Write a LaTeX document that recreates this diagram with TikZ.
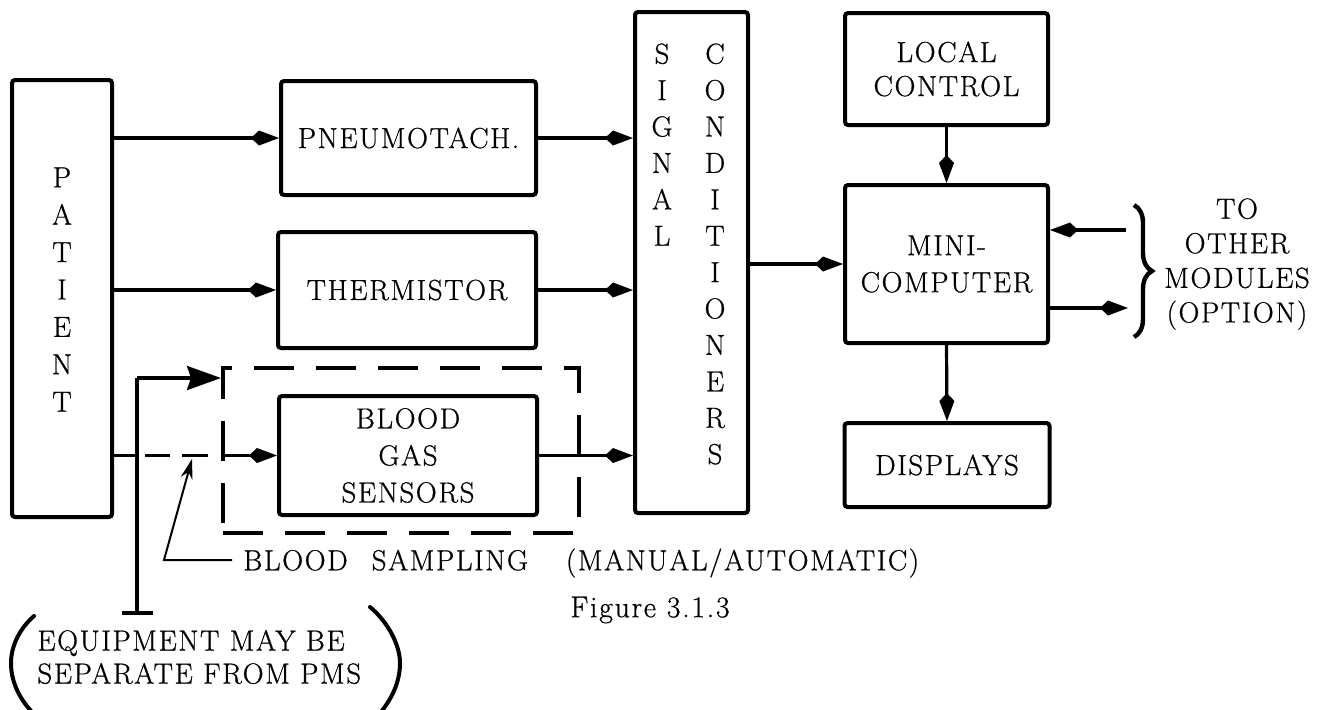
\documentclass[tikz,border=0pt]{standalone}
\usepackage{fontspec}
\setmainfont{Latin Modern Roman}[FakeBold=0.7, LetterSpace=5.5]
\usetikzlibrary{arrows.meta,decorations.pathreplacing,calc}
\begin{document}
\begin{tikzpicture}[x=0.5pt,y=-0.5pt,
  every node/.style={font=\fontsize{14.5}{18}\selectfont},
  box/.style={draw, line width=2pt, rounded corners=1.5pt, inner sep=0pt, align=center},
  conn/.style={line width=1.6pt, -{Kite[length=14pt,width=7.5pt,inset=4pt]}},
  plain/.style={line width=1.6pt},
  bigtip/.style={line width=1.6pt, -{Stealth[length=17pt,width=12pt,inset=2pt]}},
  pointer/.style={line width=1pt, -{Stealth[length=10pt,width=6pt]}},
  paren/.style={line width=2pt, line cap=round},
  stack/.style={inner sep=0pt, align=center, anchor=north}]
\useasboundingbox (0,0) rectangle (1322,709);
\fill[white] (0,0) rectangle (1322,709);

% boxes
\node[box, minimum width=50pt, minimum height=218.5pt] (patient) at (62,298.5) {};
\node[stack, font=\fontsize{14.5}{18.7}\selectfont] (patientT) at (62,167) {P\\A\\T\\I\\E\\N\\T};
\node[box, minimum width=127.5pt, minimum height=57pt] (pneumo) at (408.5,138) {PNEUMOTACH.};
\node[box, minimum width=129pt, minimum height=58pt] (therm) at (407,290) {THERMISTOR};
\node[box, minimum width=129pt, minimum height=59.5pt, font=\fontsize{14.5}{18.5}\selectfont] (blood) at (408,455.5) {BLOOD\\GAS\\SENSORS};
\node[draw, line width=2pt, dash pattern=on 20pt off 11pt, minimum width=178pt, minimum height=82.5pt, inner sep=0pt] (dbox) at (401,450.5) {};
\node[box, minimum width=56.5pt, minimum height=250.5pt] (signal) at (691.5,262.5) {};
\node[stack, font=\fontsize{14.5}{18.2}\selectfont] (sigA) at (662,43) {S\\I\\G\\N\\A\\L};
\node[stack, font=\fontsize{14.5}{18.2}\selectfont] (sigB) at (715,43) {C\\O\\N\\D\\I\\T\\I\\O\\N\\E\\R\\S};
\node[box, minimum width=101.5pt, minimum height=56pt, font=\fontsize{14.5}{17}\selectfont] (local) at (946.5,69) {LOCAL\\CONTROL};
\node[box, minimum width=101.5pt, minimum height=79pt, font=\fontsize{14.5}{18.5}\selectfont] (mini) at (946.5,264) {MINI-\\COMPUTER};
\node[box, minimum width=102.5pt, minimum height=42pt] (displays) at (947,465) {DISPLAYS};

% connectors
\draw[conn] (patient.east |- pneumo.west) -- (pneumo.west);
\draw[conn] (pneumo.east) -- (signal.west |- pneumo.east);
\draw[conn] (patient.east |- therm.west) -- (therm.west);
\draw[conn] (therm.east) -- (signal.west |- therm.east);
\draw[conn] (blood.east) -- (signal.west |- blood.east);
\draw[conn] (signal.east |- mini.west) -- (mini.west);
\draw[conn] (local.south) -- (mini.north);
\draw[conn] (mini.south) -- (displays.north);

% other modules
\coordinate (inR) at (1126,230);
\coordinate (outR) at (1128,308);
\draw[conn] (inR) -- (inR -| mini.east);
\draw[conn] (outR -| mini.east) -- (outR);
\coordinate (brT) at (1134,205);
\coordinate (brB) at (1134,337);
\draw[line width=2.2pt, decorate, decoration={brace, amplitude=9pt}] (brT) -- (brB);
\node[align=center, font=\fontsize{14.5}{17.3}\selectfont] (toother) at (1237,264) {TO\\OTHER\\MODULES\\(OPTION)};

% blood sampling branch
\coordinate (vt) at (137,378);
\coordinate (vb) at (137,613);
\coordinate (tL) at (122,613);
\coordinate (tR) at (153,613);
\draw[plain] (patient.east |- blood.west) -- (vb |- blood.west);
\draw[plain, dash pattern=on 0pt off 4pt on 12.5pt off 6pt on 13pt off 20pt] (vb |- blood.west) -- (dbox.west |- blood.west);
\draw[conn] (dbox.west |- blood.west) -- (blood.west);
\draw[plain] (vt) -- (vb);
\draw[plain] (tL) -- (tR);
\draw[bigtip] (vt) -- (vt -| dbox.west);

% pointer and label
\coordinate (pc) at (164,560);
\coordinate (pe) at (232,560);
\coordinate (ptip) at (192,459);
\draw[pointer] (pe) -- (pc) -- (ptip);
\node[anchor=west, inner sep=0pt] (bs) at (243,563) {BLOOD\hspace{12pt}SAMPLING\hspace{19pt}(MANUAL/AUTOMATIC)};
\node[font=\fontsize{15}{18}\selectfont] (fig) at (650,610) {Figure 3.1.3};

% equipment note
\node[anchor=west, align=left, inner sep=0pt, font=\fontsize{14.5}{16.5}\selectfont] (equip) at (37,657) {EQUIPMENT MAY BE\\SEPARATE FROM PMS};
\coordinate (lp1) at (34,616);
\coordinate (lp2) at (11,663);
\coordinate (lp3) at (32,712);
\coordinate (rp1) at (370,607);
\coordinate (rp2) at (400,663);
\coordinate (rp3) at (381,712);
\draw[paren] (lp1) .. controls (18,630) and (11,648) .. (lp2) .. controls (11,680) and (18,697) .. (lp3);
\draw[paren] (rp1) .. controls (388,622) and (400,645) .. (rp2) .. controls (400,682) and (392,698) .. (rp3);
\end{tikzpicture}
\end{document}
